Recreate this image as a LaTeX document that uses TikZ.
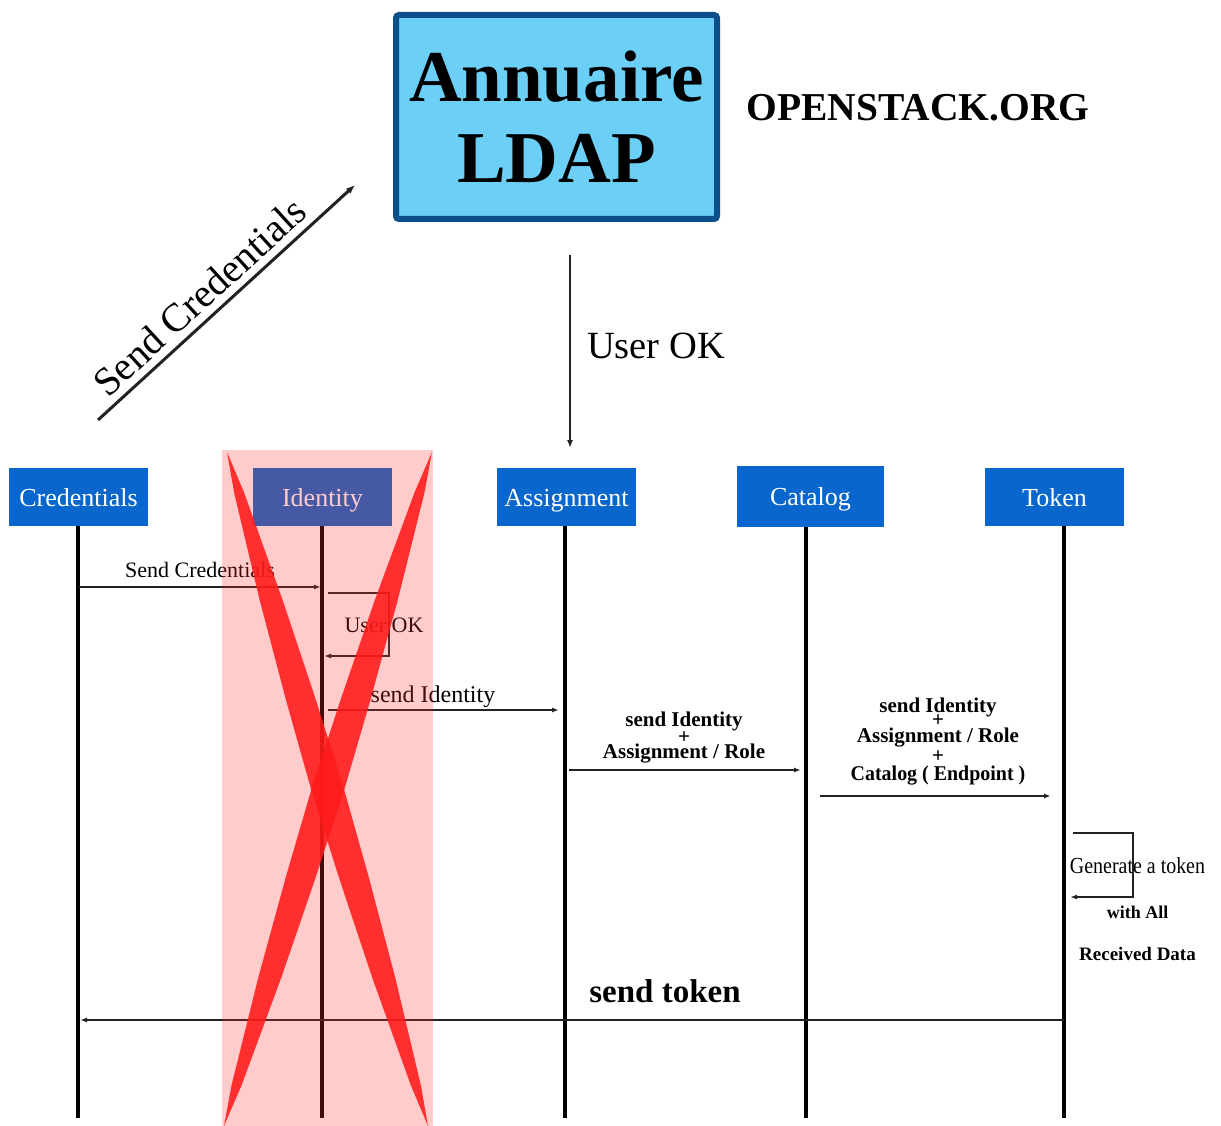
\documentclass[tikz,border=0pt]{standalone}
\usepackage{fontspec}
\setmainfont{Liberation Serif}
\usetikzlibrary{arrows.meta,calc}
\newcommand\myfs[1]{\fontsize{#1}{#1}\selectfont}
\definecolor{hdr}{HTML}{0866CC}
\definecolor{ldapfill}{HTML}{6CCFF6}
\definecolor{ldapbord}{HTML}{0B4F8C}
\definecolor{pinkov}{RGB}{255,51,51}
\definecolor{xred}{HTML}{FF1A1A}
\definecolor{msgc}{HTML}{222222}
\begin{document}
\begin{tikzpicture}[x=1pt,y=-1pt,
  hdrbox/.style={fill=hdr,text=white,minimum width=139pt,minimum height=58pt,inner sep=0pt,
    text height=18pt,text depth=0pt,font=\myfs{26}},
  life/.style={line width=4pt,draw=black},
  msg/.style={draw=msgc,line width=2pt,-{Latex[length=7pt,width=5pt]}},
  lbl/.style={inner sep=0pt,anchor=base},
  blbl/.style={inner sep=0pt,align=center},
  xstroke/.style={fill=xred,fill opacity=0.88,draw=none}]
\useasboundingbox (0,0) rectangle (1221,1126);
\fill[white] (0,0) rectangle (1221,1126);

% LDAP box
\node[draw=ldapbord,line width=6pt,fill=ldapfill,rounded corners=3pt,minimum width=321pt,minimum height=204pt,
  inner sep=0pt,align=center,font=\bfseries\fontsize{73}{81}\selectfont] (ldap) at (556.5,117) {Annuaire\\LDAP};
\node[inner sep=0pt,font=\bfseries\myfs{39.5}] (org) at (918,108) {OPENSTACK.ORG};

% Send Credentials (big)
\coordinate (sc1) at (98,420);
\coordinate (sc2) at (355,185);
\draw[line width=3pt,draw=msgc,-{Latex[length=9pt,width=7pt]}] (sc1) -- (sc2)
  node[pos=0.455,sloped,above=7pt,inner sep=0pt,font=\myfs{40}] (sclbl) {Send Credentials};

% User OK (big)
\coordinate (uo1) at (570,255);
\coordinate (uo2) at (570,448);
\draw[line width=2.5pt,draw=msgc,-{Latex[length=8pt,width=6pt]}] (uo1) -- (uo2);
\node[lbl,font=\myfs{38.5}] (uolbl) at (656,358) {User OK};

% headers
\node[hdrbox] (cred) at (78.5,497) {Credentials};
\node[hdrbox] (ident) at (322.5,497) {Identity};
\node[hdrbox] (assign) at (566.5,497) {Assignment};
\node[hdrbox,minimum width=147pt,minimum height=61pt] (cat) at (810.5,496.5) {Catalog};
\node[hdrbox] (tok) at (1054.5,497) {Token};

% lifelines
\coordinate (credB) at (78,1118);
\coordinate (identB) at (322,1118);
\coordinate (assignB) at (565,1118);
\coordinate (catB) at (806,1118);
\coordinate (tokB) at (1064,1118);
\draw[life] (cred.south -| credB) -- (credB);
\draw[life] (ident.south -| identB) -- (identB);
\draw[life] (assign.south -| assignB) -- (assignB);
\draw[life] (cat.south -| catB) -- (catB);
\draw[life] (tok.south -| tokB) -- (tokB);

% Send Credentials message
\coordinate (m1a) at (79,587);
\coordinate (m1b) at (321,587);
\draw[msg] (m1a) -- (m1b);
\node[lbl,font=\myfs{22}] (m1l) at (200,577) {Send Credentials};

% Identity self loop
\coordinate (l1a) at (328,593);
\coordinate (l1b) at (389,593);
\coordinate (l1c) at (389,656);
\coordinate (l1d) at (324,656);
\draw[msg] (l1a) -- (l1b) -- (l1c) -- (l1d);
\node[lbl,font=\myfs{22}] (l1l) at (384,632) {User OK};

% send Identity
\coordinate (m2a) at (328,710);
\coordinate (m2b) at (559,710);
\draw[msg] (m2a) -- (m2b);
\node[lbl,font=\myfs{24}] (m2l) at (433,702) {send Identity};

% Assignment -> Catalog
\coordinate (m3a) at (569,770);
\coordinate (m3b) at (801,770);
\draw[msg] (m3a) -- (m3b);
\node[blbl,font=\bfseries\fontsize{21}{15.5}\selectfont] (m3l) at (684,737.5)
  {send Identity\\+\\Assignment / Role};

% Catalog -> Token
\coordinate (m4a) at (820,796);
\coordinate (m4b) at (1051,796);
\draw[msg] (m4a) -- (m4b);
\node[blbl,font=\bfseries\fontsize{21}{16}\selectfont] (m4l) at (938,741.5)
  {send Identity\\[-3pt]+\\Assignment / Role\\[3pt]+\\[2pt]\scalebox{0.95}[1]{Catalog ( Endpoint )}};

% Token self loop
\coordinate (t1a) at (1073,833);
\coordinate (t1b) at (1133,833);
\coordinate (t1c) at (1133,897);
\coordinate (t1d) at (1070,897);
\draw[msg] (t1a) -- (t1b) -- (t1c) -- (t1d);
\node[lbl,font=\myfs{23}] (t1l) at (1137.5,873) {\scalebox{0.867}[1]{Generate a token}};
\node[lbl,font=\bfseries\myfs{18}] (t2l) at (1137.5,918) {with All};
\node[lbl,font=\bfseries\myfs{19}] (t3l) at (1137.5,960) {Received Data};

% send token
\coordinate (m5a) at (1064,1020);
\coordinate (m5b) at (80,1020);
\draw[msg] (m5a) -- (m5b);
\node[lbl,font=\bfseries\myfs{33}] (m5l) at (665,1002) {send token};

% pink translucent overlay
\fill[pinkov,opacity=0.25] (222,450) rectangle (433,1126);

% red X
\coordinate (xa1) at (227,452);
\coordinate (xb1) at (428,1126);
\coordinate (xa2) at (432,452);
\coordinate (xb2) at (224,1126);
\fill[xstroke] (xa1) -- ($(xa1)!0.06!(xb1)+(5,0)$) -- ($(xa1)!0.22!(xb1)+(11.5,0)$)
  -- ($(xa1)!0.37!(xb1)+(15,0)$) -- ($(xa1)!0.5!(xb1)+(16.5,0)$) -- ($(xa1)!0.63!(xb1)+(15,0)$)
  -- ($(xa1)!0.78!(xb1)+(11.5,0)$) -- ($(xa1)!0.94!(xb1)+(5,0)$) -- (xb1)
  -- ($(xa1)!0.94!(xb1)+(-5,0)$) -- ($(xa1)!0.78!(xb1)+(-11.5,0)$) -- ($(xa1)!0.63!(xb1)+(-15,0)$)
  -- ($(xa1)!0.5!(xb1)+(-16.5,0)$) -- ($(xa1)!0.37!(xb1)+(-15,0)$) -- ($(xa1)!0.22!(xb1)+(-11.5,0)$)
  -- ($(xa1)!0.06!(xb1)+(-5,0)$) -- cycle;
\fill[xstroke] (xa2) -- ($(xa2)!0.06!(xb2)+(5,0)$) -- ($(xa2)!0.22!(xb2)+(11.5,0)$)
  -- ($(xa2)!0.37!(xb2)+(15,0)$) -- ($(xa2)!0.5!(xb2)+(16.5,0)$) -- ($(xa2)!0.63!(xb2)+(15,0)$)
  -- ($(xa2)!0.78!(xb2)+(11.5,0)$) -- ($(xa2)!0.94!(xb2)+(5,0)$) -- (xb2)
  -- ($(xa2)!0.94!(xb2)+(-5,0)$) -- ($(xa2)!0.78!(xb2)+(-11.5,0)$) -- ($(xa2)!0.63!(xb2)+(-15,0)$)
  -- ($(xa2)!0.5!(xb2)+(-16.5,0)$) -- ($(xa2)!0.37!(xb2)+(-15,0)$) -- ($(xa2)!0.22!(xb2)+(-11.5,0)$)
  -- ($(xa2)!0.06!(xb2)+(-5,0)$) -- cycle;
\end{tikzpicture}
\end{document}
